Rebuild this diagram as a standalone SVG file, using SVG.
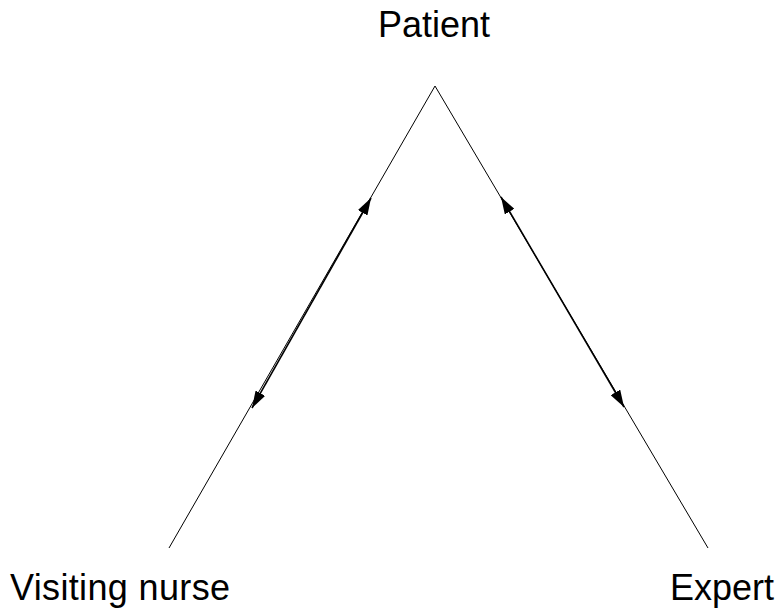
<svg xmlns="http://www.w3.org/2000/svg" width="782" height="608" viewBox="0 0 782 608">
<style>
.lbl{font-family:"Liberation Sans",Arial,sans-serif;font-size:36px;fill:#000}
.edge{stroke:#000;stroke-width:1;fill:none}
.flow{stroke:#000;stroke-width:1.6;fill:none;marker-start:url(#ah);marker-end:url(#ah)}
</style>
<defs>
<marker id="ah" markerUnits="userSpaceOnUse" viewBox="0 0 17 11" refX="17" refY="5.5" markerWidth="17" markerHeight="11" orient="auto-start-reverse">
<path d="M0,0 L17,5.5 L0,11 Z" fill="#000"/>
</marker>
</defs>
<rect width="782" height="608" fill="#fff"/>
<g id="connectors">
<line class="edge" x1="435" y1="86" x2="169" y2="548"/>
<line class="edge" x1="435" y1="86" x2="708" y2="548"/>
<line class="flow" x1="252" y1="408" x2="371" y2="198"/>
<line class="flow" x1="624" y1="407" x2="501" y2="197"/>
</g>
<g id="patient"><text class="lbl" x="434" y="37" text-anchor="middle">Patient</text></g>
<g id="nurse"><text class="lbl" x="10" y="600" textLength="220">Visiting nurse</text></g>
<g id="expert"><text class="lbl" x="670" y="600">Expert</text></g>
</svg>
